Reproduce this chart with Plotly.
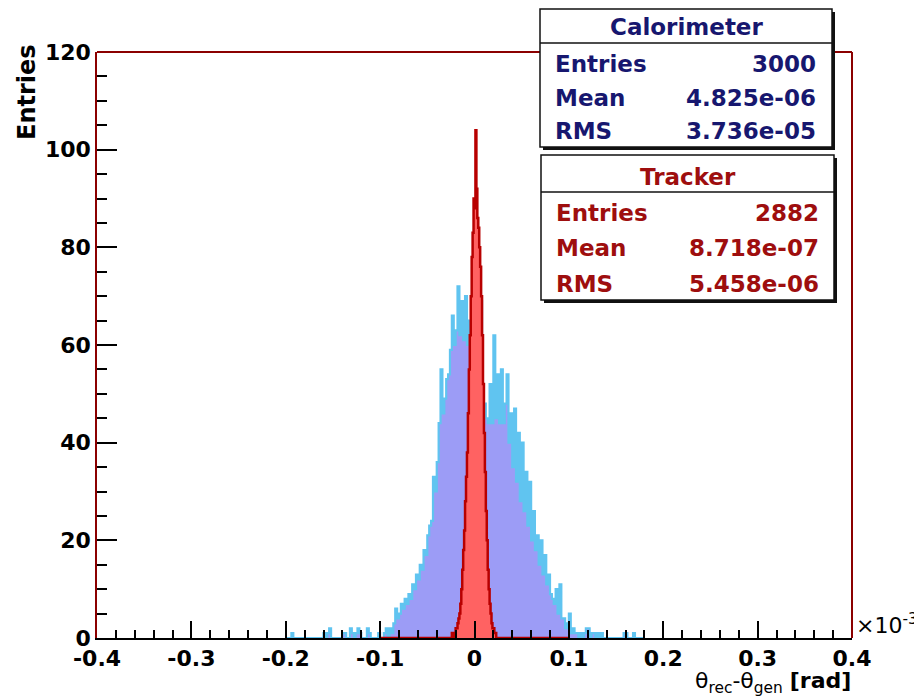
import numpy as np
import plotly.graph_objects as go

# ---------------- data (x in units of 1e-3 rad) ----------------
CALO_BIN_W = 0.002
CALO_LO, CALO_HI = -0.200, 0.180
CALO_CORE_LO = -0.090          # left edge of first core bin
# calorimeter bin contents, core bins -0.090 ... 0.112
calo_core = [2, 1, 3, 6, 4, 5, 7, 6, 8, 7,
             9, 8, 11, 10, 13, 12, 15, 14, 18, 17,
             21, 23, 24, 33, 30, 36, 44, 55, 46, 49,
             53, 54, 59, 66, 60, 63, 72, 62, 69, 61,
             70, 60, 65, 60, 60, 58, 64, 57, 69, 52,
             48, 45, 44, 52, 44, 62, 45, 54, 44, 55,
             44, 48, 54, 40, 46, 35, 47, 32, 42, 28,
             40, 26, 34, 23, 32, 20, 26, 18, 21, 15,
             20, 13, 17, 11, 13, 9, 8, 7, 10, 5,
             11, 4, 4, 2, 3, 5, 1, 2, 1, 1, 0]
# sparse tail entries of the calorimeter histogram (bin centres, counts)
calo_tail_x = [-0.193, -0.159, -0.155, -0.153, -0.139, -0.137, -0.131, -0.129,
               -0.125, -0.123, -0.121, -0.113, -0.111, -0.101, -0.095, -0.093,
               0.113, 0.117, 0.119, 0.121, 0.125, 0.127, 0.131, 0.135,
               0.159, 0.161, 0.169]
calo_tail_n = [1, 1, 1, 2, 1, 1, 2, 1,
               1, 2, 1, 2, 1, 1, 1, 2,
               1, 1, 2, 2, 1, 1, 1, 1,
               1, 1, 1]

TRK_BIN_W = 0.001
TRK_LO, TRK_HI = -0.100, 0.100
TRK_CORE_LO = -0.025
trk_core = [0, 1, 0, 1, 1, 2, 2, 3, 4, 5,
            7, 10, 14, 18, 22, 28, 33, 38, 46, 55,
            62, 70, 78, 83, 90, 88, 104, 92, 86, 84,
            80, 76, 70, 62, 52, 42, 34, 26, 20, 14,
            10, 7, 5, 3, 2, 2, 1, 1, 0]

x_tickvals = [-0.4, -0.3, -0.2, -0.1, 0.0, 0.1, 0.2, 0.3, 0.4]
x_ticktext = ["-0.4", "-0.3", "-0.2", "-0.1", "0", "0.1", "0.2", "0.3", "0.4"]
y_tickvals = [0, 20, 40, 60, 80, 100, 120]

calo_stats = [("Entries", "3000"), ("Mean", "4.825e-06"), ("RMS", "3.736e-05")]
trk_stats = [("Entries", "2882"), ("Mean", "8.718e-07"), ("RMS", "5.458e-06")]

# ---------------- build histograms ----------------
def n_bins(lo, hi, w):
    return int(round((hi - lo) / w))

calo_edges = CALO_LO + CALO_BIN_W * np.arange(n_bins(CALO_LO, CALO_HI, CALO_BIN_W) + 1)
calo_full = np.zeros(len(calo_edges) - 1)
core_start = int(round((CALO_CORE_LO - CALO_LO) / CALO_BIN_W))
calo_full[core_start:core_start + len(calo_core)] = calo_core
for cx, cn in zip(calo_tail_x, calo_tail_n):
    calo_full[int(np.floor((cx - CALO_LO) / CALO_BIN_W + 1e-9))] = cn

trk_edges = TRK_LO + TRK_BIN_W * np.arange(n_bins(TRK_LO, TRK_HI, TRK_BIN_W) + 1)
trk_full = np.zeros(len(trk_edges) - 1)
t_start = int(round((TRK_CORE_LO - TRK_LO) / TRK_BIN_W))
trk_full[t_start:t_start + len(trk_core)] = trk_core


def step_xy(edges, counts):
    counts = list(counts)
    return list(edges), counts + [counts[-1]]


LIGHT_BLUE = "#60c4f0"
PURPLE = "#9c9cf6"
RED_FILL = "#ff6262"
RED_LINE = "#b80000"
NAVY = "#17176f"
DARK_RED = "#9e0e0e"
FRAME_RED = "#8b0000"
FONT = "DejaVu Sans"

fig = go.Figure()
x, y = step_xy(calo_edges, calo_full)
fig.add_trace(go.Scatter(x=x, y=y, mode="lines", line=dict(shape="hv", color=LIGHT_BLUE, width=2.2),
                         fill="tozeroy", fillcolor=PURPLE, hoverinfo="skip"))
x, y = step_xy(trk_edges, trk_full)
fig.add_trace(go.Scatter(x=x, y=y, mode="lines", line=dict(shape="hv", color=RED_LINE, width=2.5),
                         fill="tozeroy", fillcolor=RED_FILL, hoverinfo="skip"))

# ---------------- layout ----------------
W, H = 914, 700
ML, MR, MT, MB = 97, 62, 52, 62
PW, PH = W - ML - MR, H - MT - MB


def px(xp):
    return (xp - ML) / PW


def py(yp):
    return (H - MB - yp) / PH


tickfont = dict(family=FONT, size=22, color="black", weight="bold")
fig.update_layout(
    width=W, height=H, margin=dict(l=ML, r=MR, t=MT, b=MB),
    paper_bgcolor="white", plot_bgcolor="white", showlegend=False,
    xaxis=dict(range=[-0.4, 0.4], tickvals=x_tickvals, ticktext=x_ticktext,
               ticks="inside", ticklen=17, tickwidth=1.5, tickcolor="black",
               minor=dict(tick0=-0.4, dtick=0.02, ticks="inside", ticklen=8,
                          tickwidth=1.5, tickcolor="black"),
               showgrid=False, zeroline=False, showline=True, linecolor="black",
               linewidth=1.5, tickfont=tickfont),
    yaxis=dict(range=[0, 120], tickvals=y_tickvals, ticks="inside", ticklen=20,
               tickwidth=1.5, tickcolor="black",
               minor=dict(tick0=0, dtick=5, ticks="inside", ticklen=10,
                          tickwidth=1.5, tickcolor="black"),
               showgrid=False, zeroline=False, showline=True, linecolor=FRAME_RED,
               linewidth=1.5, tickfont=tickfont),
)

shapes = [
    dict(type="line", xref="paper", yref="paper", x0=0, x1=1, y0=1, y1=1,
         line=dict(color=FRAME_RED, width=2)),
    dict(type="line", xref="paper", yref="paper", x0=1, x1=1, y0=0, y1=1,
         line=dict(color=FRAME_RED, width=2)),
]


def stat_box(x0, y0, x1, y1, ysep):
    return [
        dict(type="rect", xref="paper", yref="paper", x0=px(x0 + 3), x1=px(x1 + 3),
             y0=py(y0 + 3), y1=py(y1 + 3), fillcolor="#111111", line=dict(width=0)),
        dict(type="rect", xref="paper", yref="paper", x0=px(x0), x1=px(x1),
             y0=py(y0), y1=py(y1), fillcolor="white", line=dict(color="#111111", width=1.5)),
        dict(type="line", xref="paper", yref="paper", x0=px(x0), x1=px(x1),
             y0=py(ysep), y1=py(ysep), line=dict(color="#111111", width=1.5)),
    ]


shapes += stat_box(540, 9, 832, 147, 43)
shapes += stat_box(541, 155, 834, 300, 192)
fig.update_layout(shapes=shapes)

ann = []
sfont = lambda c: dict(family=FONT, size=23, color=c, weight="bold")


def box_text(title, stats, color, xc, yt, xl, xr, rows_y):
    ann.append(dict(xref="paper", yref="paper", x=px(xc), y=py(yt), text=title,
                    showarrow=False, xanchor="center", yanchor="middle", font=sfont(color)))
    for (lab, val), yy in zip(stats, rows_y):
        ann.append(dict(xref="paper", yref="paper", x=px(xl), y=py(yy), text=lab,
                        showarrow=False, xanchor="left", yanchor="middle", font=sfont(color)))
        ann.append(dict(xref="paper", yref="paper", x=px(xr), y=py(yy), text=val,
                        showarrow=False, xanchor="right", yanchor="middle", font=sfont(color)))


box_text("Calorimeter", calo_stats, NAVY, 686, 27, 553, 818, [64, 98, 131])
box_text("Tracker", trk_stats, DARK_RED, 688, 177, 554, 821, [213, 248, 284])

ann.append(dict(xref="paper", yref="paper", x=px(27), y=py(42), text="Entries", textangle=-90,
                showarrow=False, xanchor="center", yanchor="top",
                font=dict(family=FONT, size=24, color="black", weight="bold")))
ann.append(dict(xref="paper", yref="paper", x=px(853), y=py(699),
                text="θ<sub>rec</sub>-θ<sub>gen</sub> <b>[rad]</b>",
                showarrow=False, xanchor="right", yanchor="bottom",
                font=dict(family=FONT, size=22, color="black")))
ann.append(dict(xref="paper", yref="paper", x=px(854), y=py(640),
                text="×10<sup>-3</sup>", showarrow=False, xanchor="left", yanchor="bottom",
                font=dict(family=FONT, size=22, color="black")))
fig.update_layout(annotations=ann)

fig.write_html("out.html")
